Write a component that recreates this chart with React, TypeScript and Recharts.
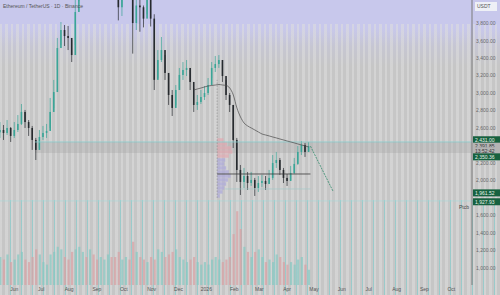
import React from 'react';
import {
  ComposedChart,
  XAxis,
  YAxis,
  Bar,
  Line,
  ReferenceLine,
  ReferenceArea,
} from 'recharts';

// ETH/USDT, one candle per 4 days starting mid-May 2025 (day 0)
const candleStep = 4;
const firstOpen = 2550;
const closes = [
  2577, 2543, 2600, 2509, 2577, 2646, 2783, 2668, 2600, 2463, 2349, 2497, 2543, 2566,
  2783, 3011, 3514, 3720, 3651, 3629, 3434, 3926, 4300, 4450, 4300, 4750, 4500, 4300,
  4300, 4350, 4650, 4500, 4450, 3980, 4150, 4500, 4450, 3800, 4000, 3980, 3850, 4100,
  3850, 3150, 3377, 3491, 3229, 2977, 2829, 3034, 3206, 3263, 3286, 3126, 2863, 2897,
  2954, 3000, 3091, 3286, 3331, 3377, 3194, 2977, 2863, 2463, 2120, 1983, 2051, 1971,
  2006, 1914, 1971, 1994, 1960, 2029, 2200, 2234, 2120, 2029, 1994, 2086, 2189, 2326,
  2406, 2326, 2392,
];
const highs = [
  2668, 2634, 2691, 2611, 2668, 2748, 2874, 2806, 2691, 2623, 2486, 2577, 2623, 2646,
  2943, 3149, 3629, 3811, 3777, 3766, 3606, 4120, 4400, 4600, 4450, 4900, 4650, 4450,
  4450, 4450, 4700, 4750, 4550, 4200, 4250, 4550, 4750, 4400, 4150, 4100, 4000, 4200,
  4100, 3900, 3491, 3640, 3434, 3206, 3034, 3091, 3286, 3354, 3377, 3263, 3057, 2977,
  3034, 3080, 3171, 3354, 3423, 3434, 3354, 3149, 3000, 2863, 2486, 2177, 2143, 2097,
  2097, 2029, 2051, 2063, 2051, 2120, 2291, 2326, 2257, 2143, 2074, 2166, 2257, 2394,
  2451, 2429, 2440,
];
const lows = [
  2486, 2463, 2520, 2440, 2486, 2554, 2634, 2600, 2509, 2349, 2234, 2371, 2463, 2486,
  2600, 2829, 3263, 3549, 3537, 3491, 3354, 3549, 4050, 4250, 4150, 4300, 4350, 4200,
  4250, 4250, 4400, 4450, 4150, 3830, 3880, 4100, 4400, 3450, 3720, 3700, 3750, 3900,
  3760, 3034, 3171, 3354, 3149, 2863, 2737, 2863, 3057, 3149, 3194, 3034, 2783, 2806,
  2874, 2920, 2977, 3171, 3240, 3286, 3126, 2920, 2783, 2371, 1983, 1834, 1914, 1891,
  1937, 1823, 1869, 1926, 1891, 1960, 2006, 2143, 2063, 1971, 1937, 2006, 2074, 2177,
  2291, 2269, 2337,
];
// volume, thousand ETH per candle
const volumes = [
  550, 500, 600, 450, 500, 600, 650, 500, 450, 550, 700, 600, 450, 400,
  600, 650, 750, 700, 550, 500, 650, 700, 750, 650, 550, 700, 600, 500,
  550, 500, 600, 550, 550, 650, 500, 550, 500, 850, 650, 550, 500, 450,
  550, 500, 700, 650, 550, 600, 650, 700, 550, 500, 450, 500, 550, 450,
  400, 450, 400, 500, 550, 500, 450, 500, 550, 1000, 1450, 1100, 750, 650,
  550, 650, 700, 550, 450, 500, 450, 600, 550, 450, 400, 450, 400, 500,
  550, 400, 300,
];
// moving average, only drawn from late December on
const maValues = [
  null, null, null, null, null, null, null, null, null, null, null, null, null, null,
  null, null, null, null, null, null, null, null, null, null, null, null, null, null,
  null, null, null, null, null, null, null, null, null, null, null, null, null, null,
  null, null, null, null, null, null, null, null, null, null, null, null, 3034, 3046,
  3057, 3069, 3080, 3086, 3091, 3097, 3091, 3086, 3057, 2977, 2829, 2726, 2657, 2623,
  2600, 2577, 2554, 2531, 2520, 2509, 2497, 2486, 2474, 2463, 2451, 2440, 2429, 2417,
  2406, 2394, 2383,
];

const monthDays = [16, 46, 77, 108, 138, 169, 199, 230, 261, 289, 320, 350, 381, 411, 442, 473, 503];
const monthLabels = ['Jun', 'Jul', 'Aug', 'Sep', 'Oct', 'Nov', 'Dec', '2026', 'Feb', 'Mar', 'Apr', 'May', 'Jun', 'Jul', 'Aug', 'Sep', 'Oct'];
const priceTicks = [1000, 1200, 1400, 1600, 2000, 2200, 2600, 2800, 3000, 3200, 3400, 3600, 3800];

// fixed range volume profile (anchored at day 242)
const profileStart = 242;
const profilePrices = [2463, 2417, 2371, 2326, 2280, 2234, 2189, 2143, 2097, 2051, 2006, 1960, 1914, 1869, 1823];
const profileWidths = [7, 11, 16, 17, 13, 9, 8, 10, 13, 15, 12, 10, 8, 6, 3];
const profileSell = [true, true, true, true, true, false, false, false, false, false, false, false, false, false, false];

// projected move
const projDays = [346, 371];
const projPrices = [2392, 1880];

// right-scale tags: label, price, pixel nudge, kind
const tagLabels = ['2,431.00', '2,391.85', '13:52:42', '2,350.36', '1,961.52', '1,927.93'];
const tagPrices = [2431, 2392, 2392, 2350, 1961, 1928];
const tagNudge = [-3, 0, 4.5, 7, 9, 15];
const tagGreen = [true, false, false, true, true, true];

const UP = '#3aa597';
const DOWN = '#262a2e';
const FONT = '"Liberation Sans", Arial, sans-serif';

const candles = closes.map((close, i) => {
  const open = i === 0 ? firstOpen : closes[i - 1];
  return {
    day: i * candleStep,
    open,
    close,
    high: highs[i],
    low: lows[i],
    range: [lows[i], highs[i]],
    vol: volumes[i],
    ma: maValues[i],
    up: close >= open,
  };
});

const projection = projDays.map((day, i) => ({ day, p: projPrices[i] }));

const CandleShape = (props: any) => {
  const { x, y, width, height, payload } = props;
  const top = Math.min(y, y + height);
  const h = Math.abs(height);
  const { open, close, high, low } = payload;
  const k = h / (high - low || 1);
  const yOf = (v: number) => top + (high - v) * k;
  const color = close >= open ? UP : DOWN;
  const cx = x + width / 2;
  const b1 = yOf(Math.max(open, close));
  const b2 = yOf(Math.min(open, close));
  return (
    <g>
      <line x1={cx} x2={cx} y1={top} y2={top + h} stroke={color} strokeWidth={0.7} />
      <rect x={x} y={b1} width={width} height={Math.max(0.8, b2 - b1)} fill={color} />
    </g>
  );
};

const VolumeShape = (props: any) => {
  const { x, y, width, height, payload } = props;
  return (
    <rect
      x={x}
      y={Math.min(y, y + height)}
      width={width}
      height={Math.abs(height)}
      fill={payload.up ? '#84c9c2' : '#d9a0a3'}
      fillOpacity={0.7}
    />
  );
};

const fmtPrice = (v: number) =>
  v.toLocaleString('en-US', { minimumFractionDigits: 2, maximumFractionDigits: 2 });

const PriceTick = ({ x, y, payload }: any) => (
  <text x={x + 2} y={y} dy={2} fontSize={5} fill="#6a6a6a" fontFamily={FONT}>
    {fmtPrice(payload.value)}
  </text>
);

const TimeTick = ({ x, y, payload }: any) => {
  const i = monthDays.indexOf(payload.value);
  return (
    <text x={x} y={y} dy={3.5} textAnchor="middle" fontSize={5} fill="#555" fontFamily={FONT}>
      {monthLabels[i]}
    </text>
  );
};

const Tag = ({ viewBox, text, green, nudge }: any) => {
  const x = viewBox.x + viewBox.width;
  const y = viewBox.y + nudge;
  return (
    <g>
      <rect x={x + 1} y={y - 3.5} width={27} height={7} fill={green ? '#17613f' : '#b4b4b4'} />
      <text x={x + 3} y={y + 2} fontSize={5} fill={green ? '#e6f4ea' : '#333'} fontFamily={FONT}>
        {text}
      </text>
    </g>
  );
};

export default function App() {
  return (
    <div
      style={{
        position: 'absolute',
        left: 0,
        top: 0,
        width: 500,
        height: 295,
        background: [
          'repeating-linear-gradient(90deg, transparent 0 4.6px, rgba(118,206,206,0.55) 4.6px 5.5px) 0 200px / 100% 95px no-repeat',
          'repeating-linear-gradient(90deg, rgba(222,222,222,0.55) 0 2.4px, transparent 2.4px 5.5px) 0 24px / 100% 271px no-repeat',
          'linear-gradient(180deg, #c8c8ec 0px, #c8c8ec 28px, #c6c6d3 46px, #c6c6c6 66px, #c6c6c6 100%)',
        ].join(', '),
      }}
    >
      <ComposedChart
        width={500}
        height={295}
        data={candles}
        margin={{ top: 0, right: 0, bottom: 0, left: 0 }}
      >
        <XAxis
          dataKey="day"
          type="number"
          domain={[0, 526]}
          ticks={monthDays}
          interval={0}
          tick={<TimeTick />}
          tickLine={false}
          tickSize={0}
          tickMargin={2}
          axisLine={false}
          height={10}
          allowDataOverflow
        />
        <XAxis xAxisId="vol" dataKey="day" type="number" domain={[0, 526]} hide />
        <YAxis
          orientation="right"
          type="number"
          domain={[805, 4063]}
          ticks={priceTicks}
          interval={0}
          tick={<PriceTick />}
          tickLine={false}
          tickSize={0}
          tickMargin={2}
          axisLine={{ stroke: '#7a7a7a', strokeWidth: 1 }}
          width={28}
          allowDataOverflow
        />
        <YAxis yAxisId="vol" domain={[0, 5600]} hide />

        <ReferenceArea x1={39} x2={526} y1={2314} y2={2440} fill="#9a9a9a" fillOpacity={0.28} stroke="none" />
        <ReferenceLine
          segment={[{ x: 39, y: 2440 }, { x: 526, y: 2440 }]}
          stroke="#86cccc"
          strokeWidth={0.8}
        />
        <ReferenceLine y={1766} stroke="#a4d8d8" strokeWidth={0.6} />
        <text x={459} y={209} fontSize={5} fill="#444" fontFamily={FONT}>
          Ptcb
        </text>

        <Bar
          xAxisId="vol"
          yAxisId="vol"
          dataKey="vol"
          barSize={2.2}
          shape={<VolumeShape />}
          isAnimationActive={false}
        />

        {profilePrices.map((p, i) => (
          <ReferenceArea
            key={`vp-${i}`}
            x1={profileStart}
            x2={profileStart + profileWidths[i]}
            y1={p - 20}
            y2={p + 20}
            fill={profileSell[i] ? '#e3a8b0' : '#ada8dc'}
            fillOpacity={0.7}
            stroke="none"
          />
        ))}
        <ReferenceLine
          segment={[{ x: profileStart, y: 1800 }, { x: profileStart, y: 3150 }]}
          stroke="#8a8a8a"
          strokeWidth={0.6}
          strokeDasharray="1.5 1.5"
        />
        <ReferenceLine
          segment={[{ x: profileStart, y: 2074 }, { x: 346, y: 2074 }]}
          stroke="#3a3a3a"
          strokeWidth={0.8}
        />
        <ReferenceLine
          segment={[{ x: 251, y: 1903 }, { x: 346, y: 1903 }]}
          stroke="#9cc9c9"
          strokeWidth={0.6}
        />

        <Bar dataKey="range" barSize={1.8} shape={<CandleShape />} isAnimationActive={false} />
        <Line
          dataKey="ma"
          type="monotone"
          stroke="#4a4a4a"
          strokeWidth={0.7}
          dot={false}
          activeDot={false}
          connectNulls={false}
          isAnimationActive={false}
        />
        <Line
          data={projection}
          dataKey="p"
          stroke="#2f8a6a"
          strokeWidth={0.8}
          strokeDasharray="2 1"
          dot={false}
          activeDot={false}
          isAnimationActive={false}
        />

        {tagLabels.map((t, i) => (
          <ReferenceLine
            key={`tag-${i}`}
            y={tagPrices[i]}
            stroke="none"
            label={(props: any) => <Tag {...props} text={t} green={tagGreen[i]} nudge={tagNudge[i]} />}
          />
        ))}
      </ComposedChart>

      <div
        style={{
          position: 'absolute',
          left: 3,
          top: 3,
          fontSize: 5,
          color: '#555',
          fontFamily: FONT,
          whiteSpace: 'nowrap',
        }}
      >
        Ethereum / TetherUS · 1D · Binance
      </div>
      <div
        style={{
          position: 'absolute',
          left: 475,
          top: 2,
          width: 22,
          height: 9,
          background: '#eef0f6',
          fontSize: 5,
          color: '#555',
          fontFamily: FONT,
          lineHeight: '9px',
          paddingLeft: 2,
          boxSizing: 'border-box',
        }}
      >
        USDT
      </div>
    </div>
  );
}
